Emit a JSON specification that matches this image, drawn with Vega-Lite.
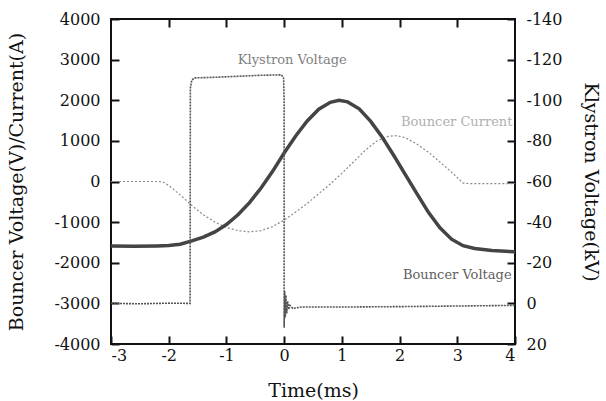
{
  "$schema": "https://vega.github.io/schema/vega-lite/v6.json",
  "width": 404,
  "height": 325,
  "autosize": {"type": "none"},
  "padding": {"left": 111, "top": 19, "right": 91, "bottom": 57},
  "background": "white",
  "config": {
    "view": {"stroke": "#111", "strokeWidth": 2},
    "font": "DejaVu Serif",
    "axis": {
      "labelFont": "DejaVu Serif",
      "titleFont": "DejaVu Serif",
      "labelFontSize": 16,
      "titleFontSize": 19,
      "titleFontWeight": "normal",
      "labelColor": "#111",
      "titleColor": "#111",
      "grid": false,
      "domain": false,
      "tickColor": "#111",
      "tickWidth": 2,
      "tickSize": -8,
      "zindex": 1
    }
  },
  "datasets": {
    "bc": [
      {"t": -3.0, "v": 0}, {"t": -2.6, "v": 0}, {"t": -2.2, "v": 0}, {"t": -2.1, "v": -10},
      {"t": -2.0, "v": -100}, {"t": -1.8, "v": -330}, {"t": -1.6, "v": -590}, {"t": -1.4, "v": -820},
      {"t": -1.2, "v": -1000}, {"t": -1.0, "v": -1130}, {"t": -0.8, "v": -1210}, {"t": -0.6, "v": -1240},
      {"t": -0.4, "v": -1210}, {"t": -0.2, "v": -1110}, {"t": 0.0, "v": -950}, {"t": 0.2, "v": -750},
      {"t": 0.4, "v": -540}, {"t": 0.6, "v": -300}, {"t": 0.8, "v": -60}, {"t": 1.0, "v": 200},
      {"t": 1.2, "v": 480}, {"t": 1.4, "v": 760}, {"t": 1.6, "v": 990}, {"t": 1.8, "v": 1110},
      {"t": 1.95, "v": 1130}, {"t": 2.1, "v": 1080}, {"t": 2.3, "v": 920}, {"t": 2.5, "v": 720},
      {"t": 2.7, "v": 480}, {"t": 2.9, "v": 230}, {"t": 3.1, "v": -40}, {"t": 3.2, "v": -50},
      {"t": 4.0, "v": -50}
    ],
    "bv": [
      {"t": -3.0, "v": -1590}, {"t": -2.6, "v": -1595}, {"t": -2.2, "v": -1585}, {"t": -2.0, "v": -1575},
      {"t": -1.8, "v": -1545}, {"t": -1.6, "v": -1460}, {"t": -1.4, "v": -1370}, {"t": -1.2, "v": -1240},
      {"t": -1.0, "v": -1060}, {"t": -0.8, "v": -820}, {"t": -0.6, "v": -520}, {"t": -0.4, "v": -160},
      {"t": -0.2, "v": 250}, {"t": 0.0, "v": 700}, {"t": 0.2, "v": 1120}, {"t": 0.4, "v": 1490},
      {"t": 0.6, "v": 1780}, {"t": 0.8, "v": 1950}, {"t": 0.95, "v": 2000}, {"t": 1.1, "v": 1960},
      {"t": 1.3, "v": 1790}, {"t": 1.5, "v": 1480}, {"t": 1.7, "v": 1090}, {"t": 1.9, "v": 640},
      {"t": 2.1, "v": 170}, {"t": 2.3, "v": -300}, {"t": 2.5, "v": -760}, {"t": 2.7, "v": -1140},
      {"t": 2.9, "v": -1420}, {"t": 3.1, "v": -1580}, {"t": 3.3, "v": -1650}, {"t": 3.6, "v": -1700},
      {"t": 4.0, "v": -1730}
    ],
    "kv": [
      {"i": 0, "t": -3.0, "kv": 0}, {"i": 1, "t": -2.5, "kv": 0.2}, {"i": 2, "t": -2.0, "kv": -0.1},
      {"i": 3, "t": -1.63, "kv": 0}, {"i": 4, "t": -1.625, "kv": -106}, {"i": 5, "t": -1.6, "kv": -110},
      {"i": 6, "t": -1.55, "kv": -111}, {"i": 7, "t": -1.2, "kv": -111.3}, {"i": 8, "t": -0.8, "kv": -111.8},
      {"i": 9, "t": -0.4, "kv": -112.3}, {"i": 10, "t": -0.05, "kv": -112.5}, {"i": 11, "t": -0.01, "kv": -111},
      {"i": 12, "t": 0.0, "kv": -100}, {"i": 13, "t": 0.0, "kv": 12}, {"i": 14, "t": 0.01, "kv": -6},
      {"i": 15, "t": 0.02, "kv": 7}, {"i": 16, "t": 0.03, "kv": -4}, {"i": 17, "t": 0.045, "kv": 5},
      {"i": 18, "t": 0.06, "kv": -1}, {"i": 19, "t": 0.08, "kv": 3}, {"i": 20, "t": 0.1, "kv": 1},
      {"i": 21, "t": 0.15, "kv": 2.5}, {"i": 22, "t": 0.3, "kv": 1.8}, {"i": 23, "t": 1.0, "kv": 1.8},
      {"i": 24, "t": 2.0, "kv": 1.6}, {"i": 25, "t": 3.0, "kv": 1.3}, {"i": 26, "t": 4.0, "kv": 1.0}
    ],
    "notes": [
      {"t": 0.14, "v": 2980, "label": "Klystron Voltage"},
      {"t": 2.99, "v": 1474, "label": "Bouncer Current"},
      {"t": 3.0, "v": -2300, "label": "Bouncer Voltage"}
    ]
  },
  "layer": [
    {
      "layer": [
        {
          "data": {"name": "bc"},
          "mark": {"type": "line", "color": "#8a8a8a", "strokeWidth": 1.2, "strokeDash": [2, 2]},
          "encoding": {
            "x": {
              "field": "t", "type": "quantitative",
              "scale": {"domain": [-3, 4], "nice": false, "zero": false},
              "axis": {
                "orient": "bottom",
                "values": [-3, -2, -1, 0, 1, 2, 3, 4],
                "labelExpr": "'' + datum.value",
                "labelPadding": 11,
                "title": "Time(ms)",
                "titleY": 52,
                "titleBaseline": "alphabetic"
              }
            },
            "y": {
              "field": "v", "type": "quantitative",
              "scale": {"domain": [-4000, 4000], "nice": false},
              "axis": {
                "orient": "left",
                "values": [-4000, -3000, -2000, -1000, 0, 1000, 2000, 3000, 4000],
                "labelExpr": "'' + datum.value",
                "labelPadding": 19,
                "title": "Bouncer Voltage(V)/Current(A)",
                "titleAngle": -90,
                "titleX": -95,
                "titleY": 162.5,
                "titleAlign": "center",
                "titleBaseline": "middle"
              }
            }
          }
        },
        {
          "data": {"name": "bv"},
          "mark": {"type": "line", "color": "#444444", "strokeWidth": 3.5},
          "encoding": {
            "x": {"field": "t", "type": "quantitative"},
            "y": {"field": "v", "type": "quantitative"}
          }
        },
        {
          "data": {"name": "notes"},
          "mark": {"type": "text", "fontSize": 13, "font": "DejaVu Serif"},
          "encoding": {
            "x": {"field": "t", "type": "quantitative"},
            "y": {"field": "v", "type": "quantitative"},
            "text": {"field": "label"},
            "color": {
              "field": "label", "type": "nominal",
              "scale": {"domain": ["Klystron Voltage", "Bouncer Current", "Bouncer Voltage"], "range": ["#808080", "#b0b0b0", "#606060"]},
              "legend": null
            }
          }
        }
      ]
    },
    {
      "data": {"name": "kv"},
      "mark": {"type": "line", "color": "#555555", "strokeWidth": 1.6, "strokeDash": [2, 1]},
      "encoding": {
        "x": {
          "field": "t", "type": "quantitative",
          "axis": {"orient": "top", "values": [-2, -1, 0, 1, 2, 3], "labels": false, "title": null}
        },
        "y": {
          "field": "kv", "type": "quantitative",
          "scale": {"domain": [20, -140], "nice": false, "zero": false},
          "axis": {
            "orient": "right",
            "values": [20, 0, -20, -40, -60, -80, -100, -120, -140],
            "labelExpr": "'' + datum.value",
            "labelPadding": 19,
            "title": "Klystron Voltage(kV)",
            "titleAngle": 90,
            "titleX": 75,
            "titleY": 162.5,
            "titleAlign": "center",
            "titleBaseline": "middle"
          }
        },
        "order": {"field": "i", "type": "quantitative"}
      }
    }
  ],
  "resolve": {"scale": {"y": "independent"}, "axis": {"x": "independent", "y": "independent"}}
}
